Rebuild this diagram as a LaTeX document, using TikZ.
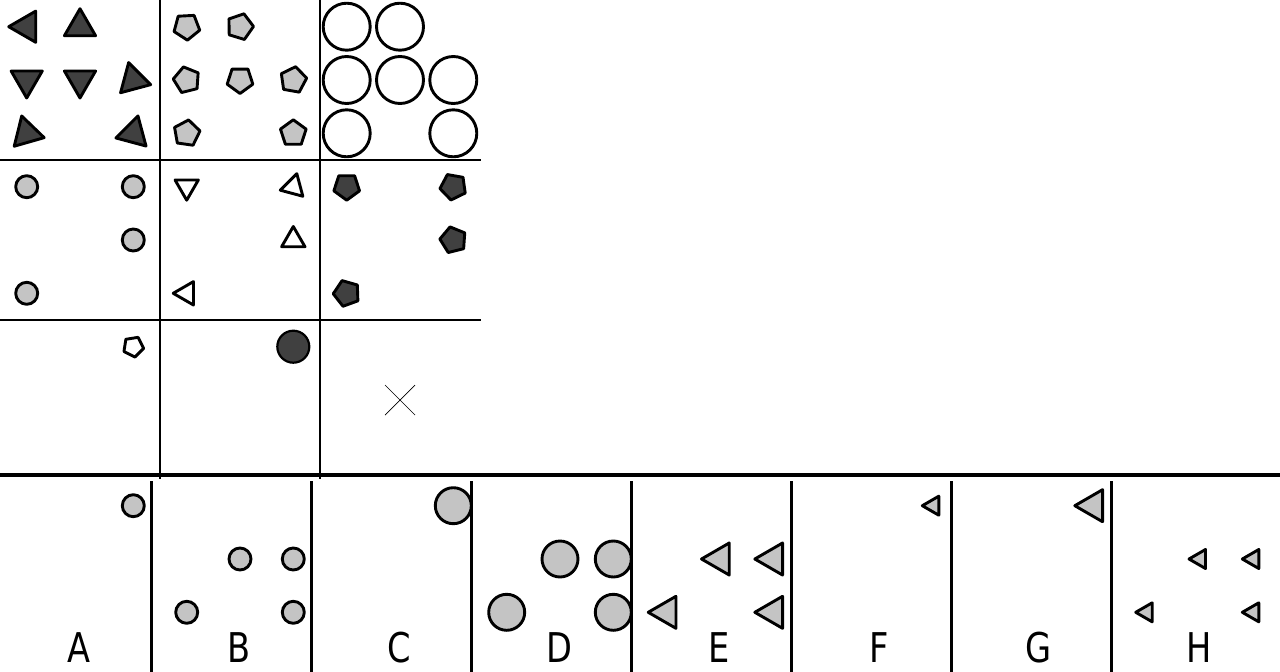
\documentclass[tikz,border=0pt]{standalone}
\usepackage{fontspec}
\usepackage{tikz}
\usetikzlibrary{calc}
\newfontfamily\lblfont[FakeStretch=0.82]{DejaVu Sans}
\definecolor{lightfill}{HTML}{C4C4C4}
\definecolor{darkfill}{HTML}{404040}
\tikzset{
  outl/.style={draw=black, line width=2.9pt, line join=round},
  darkshp/.style={outl, fill=darkfill},
  grayshp/.style={outl, fill=lightfill},
  whiteshp/.style={outl, fill=white},
  gridline/.style={line width=2.6pt},
  sepline/.style={line width=4.5pt},
  panelline/.style={line width=3pt},
  lbl/.style={font=\lblfont\fontsize{41}{41}\selectfont, anchor=base, inner sep=0pt}
}
% regelmaessiges Vieleck: Stil, Ecken, x, y, Radius, Winkel der ersten Ecke
\newcommand{\ngon}[6]{%
  \draw[#1] ({#3+#5*cos(#6)},{#4-#5*sin(#6)})
    \foreach \k in {1,...,#2}{ -- ({#3+#5*cos(#6+\k*360/#2)},{#4-#5*sin(#6+\k*360/#2)})} -- cycle;}

\begin{document}
\begin{tikzpicture}[x=1pt,y=-1pt]
  \useasboundingbox (0,0) rectangle (1280,672);

  % Raster oben
  \draw[gridline] (160,0) -- (160,479);
  \draw[gridline] (320,0) -- (320,479);
  \draw[gridline] (0,160) -- (481,160);
  \draw[gridline] (0,320) -- (481,320);
  \draw[sepline] (0,475) -- (1280,475);
  \foreach \i in {0,...,6}
    \draw[panelline] ({151+160*\i},481) -- ({151+160*\i},672);

  % Zeile 1
  \foreach \x/\y/\a in {26.7/26.7/180, 80/26.7/90, 26.7/80/270, 80/80/270,
                        133.3/80/-15, 26.7/133.3/-14, 133.3/133.3/195}
    \ngon{darkshp}{3}{\x}{\y}{18}{\a};
  \foreach \x/\y/\a in {186.7/26.7/57, 240/26.7/1, 186.7/80/32, 240/80/270,
                        293.3/80/8, 186.7/133.3/10, 293.3/133.3/90}
    \ngon{grayshp}{5}{\x}{\y}{13.5}{\a};
  \foreach \x/\y in {346.7/26.7, 400/26.7, 346.7/80, 400/80, 453.3/80,
                     346.7/133.3, 453.3/133.3}
    \draw[whiteshp] (\x,\y) circle[radius=23.5pt];

  % Zeile 2
  \foreach \x/\y in {26.7/186.7, 133.3/186.7, 133.3/240, 26.7/293.3}
    \draw[grayshp] (\x,\y) circle[radius=11pt];
  \foreach \x/\y/\a in {186.7/186.7/270, 293.3/186.7/195, 293.3/240/90, 186.7/293.3/180}
    \ngon{whiteshp}{3}{\x}{\y}{13.5}{\a};
  \foreach \x/\y/\a in {346.7/186.7/270, 453.3/186.7/44, 453.3/240/32, 346.7/293.3/38}
    \ngon{darkshp}{5}{\x}{\y}{13.5}{\a};

  % Zeile 3
  \ngon{whiteshp}{5}{133.3}{346.7}{10.5}{-9};
  \draw[darkshp, line width=2.2pt] (293.3,346.7) circle[radius=16pt];
  \draw[line width=0.7pt] (385,385) -- (415,415);
  \draw[line width=0.7pt] (385,415) -- (415,385);

  % Antworten
  \draw[grayshp] (133.3,505.7) circle[radius=11pt];
  \foreach \x/\y in {240/559, 293.3/559, 186.7/612.3, 293.3/612.3}
    \draw[grayshp] (\x,\y) circle[radius=11pt];
  \draw[grayshp] (453.3,505.7) circle[radius=18pt];
  \foreach \x/\y in {560/559, 613.3/559, 506.7/612.3, 613.3/612.3}
    \draw[grayshp] (\x,\y) circle[radius=18pt];
  \foreach \x/\y in {720/559, 773.3/559, 666.7/612.3, 773.3/612.3}
    \ngon{grayshp}{3}{\x}{\y}{18.5}{180};
  \ngon{grayshp}{3}{933.3}{505.7}{11}{180};
  \ngon{grayshp}{3}{1093.3}{505.7}{18.5}{180};
  \foreach \x/\y in {1200/559, 1253.3/559, 1146.7/612.3, 1253.3/612.3}
    \ngon{grayshp}{3}{\x}{\y}{11}{180};

  \foreach \t [count=\i from 0] in {A,B,C,D,E,F,G,H}
    \node[lbl] (lbl\t) at ({79+160*\i},662) {\t};
\end{tikzpicture}
\end{document}
